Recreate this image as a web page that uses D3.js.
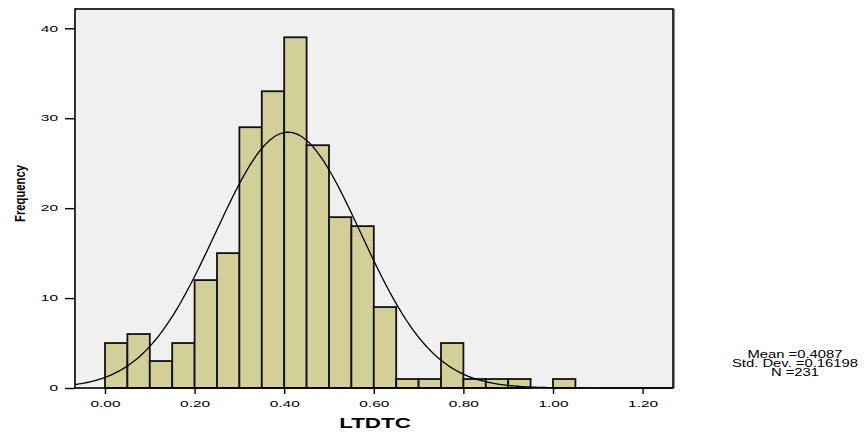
<!DOCTYPE html>
<html>
<head>
<meta charset="utf-8">
<script src="https://cdn.jsdelivr.net/npm/d3@7"></script>
<style>
  body { margin: 0; background: #fff; }
  svg { font-family: "Liberation Sans", Arial, sans-serif; }
</style>
</head>
<body>
<svg id="hist"></svg>
<script>
// data
const binStarts = [0.00, 0.05, 0.10, 0.15, 0.20, 0.25, 0.30, 0.35, 0.40, 0.45, 0.50,
                   0.55, 0.60, 0.65, 0.70, 0.75, 0.80, 0.85, 0.90, 0.95, 1.00];
const counts = [5, 6, 3, 5, 12, 15, 29, 33, 39, 27, 19, 18, 9, 1, 1, 5, 1, 1, 1, 0, 1];
const binWidth = 0.05;
const xTicks = [0, 0.2, 0.4, 0.6, 0.8, 1.0, 1.2];
const yTicks = [0, 10, 20, 30, 40];
const stats = { mean: 0.4087, sd: 0.16198, n: 231 };
const legendLines = ["Mean =0.4087", "Std. Dev. =0.16198", "N =231"];

// set up constants
const width = 867;
const height = 435;
const plot = { left: 75, top: 9, right: 673, bottom: 388 };

const svg = d3.select('#hist')
  .attr('width', width)
  .attr('height', height);

// the original text is drawn wide; stretch it horizontally
function stretch(sel, k) {
  sel.each(function () {
    const w = this.getComputedTextLength();
    d3.select(this)
      .attr('textLength', w * k)
      .attr('lengthAdjust', 'spacingAndGlyphs');
  });
}

// scales
const xScale = d3.scaleLinear()
  .domain([0, 1.2])
  .range([105, 642.6]);

const yScale = d3.scaleLinear()
  .domain([0, 40])
  .range([388, 28.3]);

// plot background
svg.append('rect')
  .attr('x', plot.left)
  .attr('y', plot.top)
  .attr('width', plot.right - plot.left)
  .attr('height', plot.bottom - plot.top)
  .attr('fill', '#f0f0f0');

// bars
svg.selectAll('rect.bar')
  .data(counts.map((c, i) => ({ x0: binStarts[i], c })))
  .enter()
  .filter(d => d.c > 0)
  .append('rect')
  .attr('class', 'bar')
  .attr('x', d => xScale(d.x0))
  .attr('y', d => yScale(d.c))
  .attr('width', d => xScale(d.x0 + binWidth) - xScale(d.x0))
  .attr('height', d => yScale(0) - yScale(d.c))
  .attr('fill', '#d3cf99')
  .attr('stroke', '#111')
  .attr('stroke-width', 1.8);

// normal curve from the legend stats
const xMin = xScale.invert(plot.left);
const xMax = xScale.invert(plot.right);
const curveX = d3.range(0, 301).map(i => xMin + (xMax - xMin) * i / 300);
const pdf = x => stats.n * binWidth / (stats.sd * Math.sqrt(2 * Math.PI)) *
  Math.exp(-0.5 * Math.pow((x - stats.mean) / stats.sd, 2));

svg.append('path')
  .datum(curveX)
  .attr('d', d3.line().x(d => xScale(d)).y(d => yScale(pdf(d))))
  .attr('fill', 'none')
  .attr('stroke', '#000')
  .attr('stroke-width', 1.3);

// frame
svg.append('rect')
  .attr('x', plot.left)
  .attr('y', plot.top)
  .attr('width', plot.right - plot.left)
  .attr('height', plot.bottom - plot.top)
  .attr('fill', 'none')
  .attr('stroke', '#000')
  .attr('stroke-width', 1.6);
svg.append('line')
  .attr('x1', plot.right + 1.5).attr('x2', plot.right + 1.5)
  .attr('y1', plot.top).attr('y2', plot.bottom)
  .attr('stroke', '#888')
  .attr('stroke-width', 1);

// axes
const xAxis = d3.axisBottom(xScale)
  .tickValues(xTicks)
  .tickFormat(d3.format('.2f'))
  .tickSize(6)
  .tickPadding(6.5);

const yAxis = d3.axisLeft(yScale)
  .tickValues(yTicks)
  .tickSize(10)
  .tickPadding(7);

const gx = svg.append('g')
  .attr('transform', `translate(0, ${plot.bottom})`)
  .call(xAxis);
gx.select('.domain').remove();

const gy = svg.append('g')
  .attr('transform', `translate(${plot.left}, 0)`)
  .call(yAxis);
gy.select('.domain').remove();

svg.selectAll('.tick line').attr('stroke', '#000').attr('stroke-width', 1.4);
svg.selectAll('.tick text')
  .attr('fill', '#000')
  .style('font-size', '8.6px')
  .style('font-family', '"Liberation Sans", Arial, sans-serif');
stretch(svg.selectAll('.tick text'), 1.8);

// axis titles
const xTitle = svg.append('text')
  .attr('x', 375)
  .attr('y', 428)
  .attr('text-anchor', 'middle')
  .style('font-size', '14px')
  .style('font-weight', 'bold')
  .text('LTDTC');
stretch(xTitle, 1.6);

svg.append('text')
  .attr('transform', 'translate(24.5, 193.5) rotate(-90)')
  .attr('text-anchor', 'middle')
  .attr('textLength', 57)
  .attr('lengthAdjust', 'spacingAndGlyphs')
  .style('font-size', '15px')
  .style('font-weight', 'bold')
  .text('Frequency');

// stats legend
const legend = svg.append('g')
  .selectAll('text')
  .data(legendLines)
  .enter()
  .append('text')
  .attr('x', 795)
  .attr('y', (d, i) => 358 + i * 9.2)
  .attr('text-anchor', 'middle')
  .style('font-size', '10px')
  .text(d => d);
stretch(legend, 1.48);
</script>
</body>
</html>
